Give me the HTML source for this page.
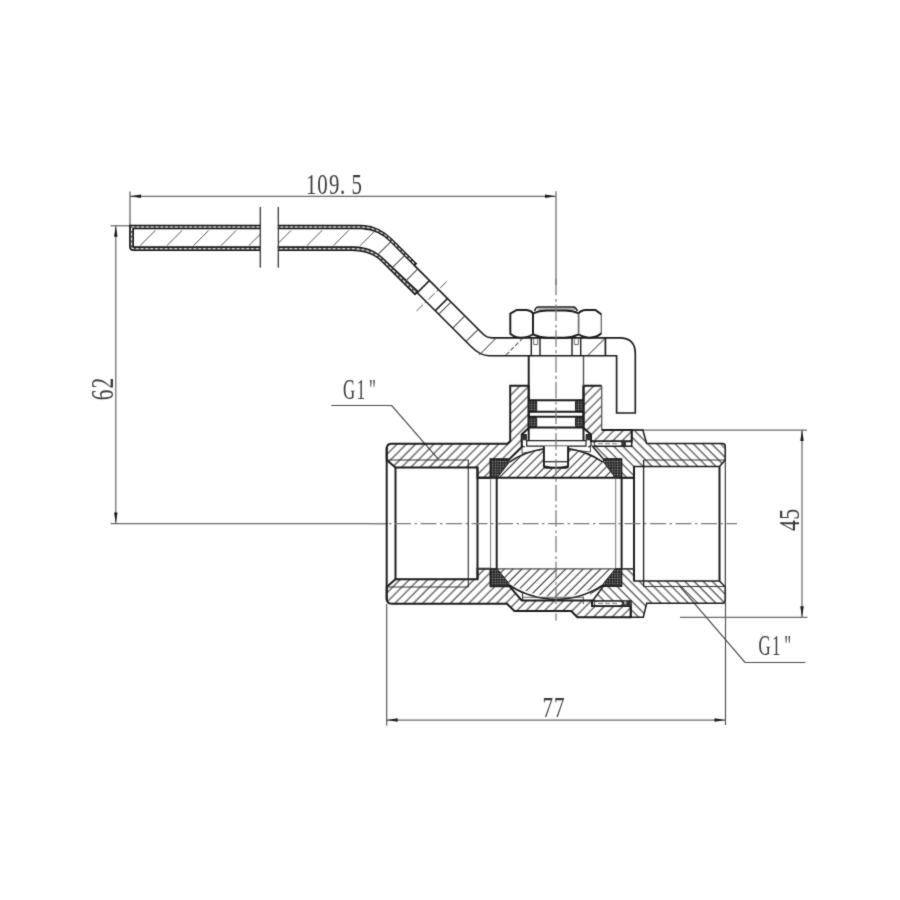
<!DOCTYPE html>
<html lang="en">
<head>
<meta charset="utf-8">
<title>Ball valve G1" - dimensional drawing</title>
<style>
html,body{margin:0;padding:0;background:#fff;}
body{width:900px;height:900px;overflow:hidden;font-family:"Liberation Serif",serif;}
svg{display:block;}
</style>
</head>
<body>
<svg width="900" height="900" viewBox="0 0 900 900">
<rect width="900" height="900" fill="#fff"/>
<g filter="url(#soft)">
<defs>
<filter id="soft" filterUnits="userSpaceOnUse" x="0" y="0" width="900" height="900" color-interpolation-filters="sRGB"><feConvolveMatrix order="3" kernelMatrix="0.02 0.09 0.02 0.09 0.56 0.09 0.02 0.09 0.02" edgeMode="duplicate" preserveAlpha="false"/></filter>
<pattern id="hA" width="6.53" height="6.53" patternUnits="userSpaceOnUse" patternTransform="translate(5.82,0) rotate(45)">
<line x1="3" y1="-1" x2="3" y2="8" stroke="#222" stroke-width="1.0"/></pattern>
<pattern id="hB" width="6.45" height="6.45" patternUnits="userSpaceOnUse" patternTransform="translate(8.1,0) rotate(-45)">
<line x1="3" y1="-1" x2="3" y2="8" stroke="#222" stroke-width="1.0"/></pattern>
<pattern id="hC" width="6.2" height="6.2" patternUnits="userSpaceOnUse" patternTransform="translate(8.13,0) rotate(45)">
<line x1="3" y1="-1" x2="3" y2="8" stroke="#222" stroke-width="1.0"/></pattern>
<pattern id="dots" width="2.6" height="2.6" patternUnits="userSpaceOnUse">
<rect width="2.6" height="2.6" fill="#2b2b2b"/><rect x="0.8" y="0.8" width="1.1" height="1.1" fill="#a8a8a8"/></pattern>
</defs>
<line x1="130" y1="196.3" x2="556" y2="196.3" stroke="#6a6a6a" stroke-width="1.25" />
<line x1="130" y1="191.5" x2="130" y2="225.5" stroke="#4a4a4a" stroke-width="1.1" />
<polygon points="130,196.3 141.00,198.05 141.00,194.55" fill="#1a1a1a"/>
<polygon points="556,196.3 545.00,194.55 545.00,198.05" fill="#1a1a1a"/>
<line x1="115.8" y1="225.8" x2="115.8" y2="523.4" stroke="#6a6a6a" stroke-width="1.25" />
<line x1="110.5" y1="225.8" x2="130" y2="225.8" stroke="#6a6a6a" stroke-width="1.25" />
<line x1="110.5" y1="523.5" x2="388" y2="523.5" stroke="#6a6a6a" stroke-width="1.25" />
<polygon points="115.8,225.8 114.05,236.80 117.55,236.80" fill="#1a1a1a"/>
<polygon points="115.8,523.4 117.55,512.40 114.05,512.40" fill="#1a1a1a"/>
<line x1="386.7" y1="720" x2="725.5" y2="720" stroke="#6a6a6a" stroke-width="1.25" />
<line x1="386.7" y1="604" x2="386.7" y2="725.5" stroke="#4a4a4a" stroke-width="1.1" />
<line x1="725.5" y1="603" x2="725.5" y2="725" stroke="#4a4a4a" stroke-width="1.1" />
<polygon points="386.7,720 397.70,721.75 397.70,718.25" fill="#1a1a1a"/>
<polygon points="725.5,720 714.50,718.25 714.50,721.75" fill="#1a1a1a"/>
<line x1="802" y1="430" x2="802" y2="617.3" stroke="#6a6a6a" stroke-width="1.25" />
<line x1="632" y1="430" x2="807" y2="430" stroke="#6a6a6a" stroke-width="1.25" />
<line x1="680" y1="617.3" x2="807.5" y2="617.3" stroke="#6a6a6a" stroke-width="1.25" />
<polygon points="802,430 800.25,441.00 803.75,441.00" fill="#1a1a1a"/>
<polygon points="802,617.3 803.75,606.30 800.25,606.30" fill="#1a1a1a"/>
<path d="M331.3 405.5 L391.7 405.5 L438.3 459.2" stroke="#4a4a4a" stroke-width="1.2" fill="none" />
<path d="M680 586.7 L745 662.5 L805.3 662.5" stroke="#4a4a4a" stroke-width="1.2" fill="none" />
<line x1="260.3" y1="207" x2="260.3" y2="267.5" stroke="#3a3a3a" stroke-width="1.0" />
<line x1="278.3" y1="207" x2="278.3" y2="267.5" stroke="#3a3a3a" stroke-width="1.0" />
<path d="M386.7 448.7 Q386.7 443.7 391.7 443.7 L507.5 443.7 L510.2 441 L510.2 385.8 L528.7 385.8 L528.7 428 L521.7 434.5 L521.7 447 L509.3 459.3 L490.5 459.3 L490.5 477.7 L477.5 477.7 L477.5 467.5 L395.5 467.5 L386.7 460 Z" stroke="none" stroke-width="0" fill="url(#hA)" />
<path d="M583.5 385.8 L601.7 385.8 L601.7 430 L631.7 430 L631.7 441.3 L591 441.3 L591 434.5 L583.5 428 Z" stroke="none" stroke-width="0" fill="url(#hA)" />
<path d="M386.7 587 L395.5 579.3 L477.5 579.3 L477.5 568.8 L490.5 568.8 L490.5 586.2 L509.4 586.2 L521.7 600.4 L592 600.4 L592 606 L630.6 606 L630.6 617.2 L577.3 617.2 L571.3 611 L514.4 611 L507 603.8 L391.7 603.8 Q386.7 603.8 386.7 598.8 Z" stroke="none" stroke-width="0" fill="url(#hA)" />
<path d="M631.7 430 L642.8 430 L646.7 443.5 L722.5 443.5 Q725.3 443.5 725.3 446.5 L725.3 460 L719.5 466.5 L634 466.5 L634 477.7 L621.5 477.7 L621.5 459 L603.3 459 L592.5 446.3 L631.7 446.3 Z" stroke="none" stroke-width="0" fill="url(#hB)" />
<path d="M621.5 568.8 L634 568.8 L634 581 L719.5 581 L725.3 587 L725.3 600.5 Q725.3 603.3 722.5 603.3 L646.7 603.3 L643.3 617.2 L631 617.2 L631 601 L592.5 601 L603.3 586.2 L621.5 586.2 Z" stroke="none" stroke-width="0" fill="url(#hB)" />
<path d="M496.7 477.7 L496.7 474.7 A80.0 75.7 0 0 1 543.9 448.69 L543.9 467.8 L568.1 467.8 L568.1 448.66 A80.0 75.7 0 0 1 615.7 474.7 L615.7 477.7 Z" stroke="none" stroke-width="0" fill="url(#hC)" />
<path d="M496.7 568.8 L496.7 571.8 A80.0 75.7 0 0 0 615.7 571.8 L615.7 568.8 Z" stroke="none" stroke-width="0" fill="url(#hC)" />
<path d="M386.7 448.7 Q386.7 443.7 391.7 443.7 L507.5 443.7 L510.2 441 L510.2 385.8 L528.7 385.8 L528.7 428 L521.7 434.5 L521.7 447 L509.3 459.3 L490.5 459.3 L490.5 477.7 L477.5 477.7 L477.5 467.5 L395.5 467.5 L386.7 460 Z" stroke="#1b1b1b" stroke-width="1.95" fill="none" />
<path d="M601.7 430 L631.7 430 L631.7 441.3 L591 441.3 L591 434.5 L583.5 428 L583.5 385.8 L601.7 385.8" stroke="#1b1b1b" stroke-width="1.95" fill="none" />
<line x1="601.7" y1="385.8" x2="601.7" y2="430" stroke="#555" stroke-width="1.3" />
<path d="M386.7 587 L395.5 579.3 L477.5 579.3 L477.5 568.8 L490.5 568.8 L490.5 586.2 L509.4 586.2 L521.7 600.4 L592 600.4 L592 606 L630.6 606 L630.6 617.2 L577.3 617.2 L571.3 611 L514.4 611 L507 603.8 L391.7 603.8 Q386.7 603.8 386.7 598.8 Z" stroke="#1b1b1b" stroke-width="1.95" fill="none" />
<path d="M631.7 430 L642.8 430 L646.7 443.5 L722.5 443.5 Q725.3 443.5 725.3 446.5 L725.3 460 L719.5 466.5 L634 466.5 L634 477.7 L621.5 477.7 L621.5 459 L603.3 459 L592.5 446.3 L631.7 446.3 Z" stroke="#1b1b1b" stroke-width="1.5" fill="none" />
<path d="M621.5 568.8 L634 568.8 L634 581 L719.5 581 L725.3 587 L725.3 600.5 Q725.3 603.3 722.5 603.3 L646.7 603.3 L643.3 617.2 L631 617.2 L631 601 L592.5 601 L603.3 586.2 L621.5 586.2 Z" stroke="#1b1b1b" stroke-width="1.5" fill="none" />
<line x1="386.7" y1="447" x2="386.7" y2="600.5" stroke="#1b1b1b" stroke-width="1.95" />
<line x1="395.5" y1="467.5" x2="395.5" y2="579.3" stroke="#1b1b1b" stroke-width="1.95" />
<line x1="468.3" y1="460" x2="468.3" y2="587" stroke="#2a2a2a" stroke-width="1.1" />
<line x1="477.5" y1="467.5" x2="477.5" y2="579.3" stroke="#1b1b1b" stroke-width="1.95" />
<line x1="386.7" y1="460" x2="468.3" y2="460" stroke="#333" stroke-width="1.0" />
<line x1="386.7" y1="587" x2="468.3" y2="587" stroke="#333" stroke-width="1.0" />
<line x1="634" y1="466.5" x2="634" y2="581" stroke="#1b1b1b" stroke-width="1.95" />
<line x1="643.6" y1="460" x2="643.6" y2="586.5" stroke="#1b1b1b" stroke-width="1.3" />
<line x1="719.5" y1="466.5" x2="719.5" y2="581" stroke="#1b1b1b" stroke-width="1.95" />
<line x1="725.3" y1="446.5" x2="725.3" y2="600.5" stroke="#2a2a2a" stroke-width="1.1" />
<line x1="643.6" y1="460" x2="725.3" y2="460" stroke="#333" stroke-width="1.0" />
<line x1="643.6" y1="586.5" x2="725.3" y2="586.5" stroke="#333" stroke-width="1.0" />
<line x1="477.5" y1="477.7" x2="634" y2="477.7" stroke="#1b1b1b" stroke-width="1.95" />
<line x1="477.5" y1="568.8" x2="634" y2="568.8" stroke="#4a4a4a" stroke-width="1.3" />
<line x1="490.6" y1="477.7" x2="490.6" y2="568.8" stroke="#666" stroke-width="0.9" />
<line x1="496.7" y1="477.7" x2="496.7" y2="568.8" stroke="#1b1b1b" stroke-width="1.95" />
<line x1="615.7" y1="477.7" x2="615.7" y2="568.8" stroke="#666" stroke-width="0.9" />
<line x1="621.6" y1="477.7" x2="621.6" y2="568.8" stroke="#1b1b1b" stroke-width="1.95" />
<path d="M594 443.7 Q594 441.5 597 441.5 L620 441.5 Q622.5 441.5 622.5 443.7 Q622.5 446 620 446 L597 446 Q594 446 594 443.7 Z" stroke="#1b1b1b" stroke-width="1.0" fill="#fff" />
<line x1="598" y1="443.7" x2="619" y2="443.7" stroke="#555" stroke-width="0.8" stroke-dasharray="5 2"/>
<rect x="621.5" y="441" width="4.5" height="5.2" fill="#333"/>
<path d="M594 603.4 Q594 601.2 597 601.2 L620 601.2 Q622.5 601.2 622.5 603.4 Q622.5 605.7 620 605.7 L597 605.7 Q594 605.7 594 603.4 Z" stroke="#1b1b1b" stroke-width="1.0" fill="#fff" />
<line x1="598" y1="603.4" x2="619" y2="603.4" stroke="#555" stroke-width="0.8" stroke-dasharray="5 2"/>
<rect x="622" y="600.6" width="8.6" height="5.4" fill="#333"/>
<rect x="624.3" y="601.2" width="2" height="3.2" fill="#bbb"/>
<path d="M509.3 462.10 A80.0 75.7 0 0 1 543.9 448.69" stroke="#1b1b1b" stroke-width="1.6" fill="none" />
<path d="M568.1 448.66 A80.0 75.7 0 0 1 603 462.17" stroke="#1b1b1b" stroke-width="1.6" fill="none" />
<path d="M509.3 584.90 A80.0 75.7 0 0 0 603 584.83" stroke="#1b1b1b" stroke-width="1.6" fill="none" />
<path d="M490.6 459.3 L509.0 459.3 L509.0 462.5 L497.2 477.7 L490.6 477.7 Z" stroke="#1a1a1a" stroke-width="1.0" fill="url(#dots)" />
<path d="M621.6 459.0 L603.5 459.0 L603.5 462.0 L615.3 477.7 L621.6 477.7 Z" stroke="#1a1a1a" stroke-width="1.0" fill="url(#dots)" />
<path d="M490.6 586.2 L509.0 586.2 L509.0 583.5 L497.2 568.8 L490.6 568.8 Z" stroke="#1a1a1a" stroke-width="1.0" fill="url(#dots)" />
<path d="M621.6 586.2 L603.5 586.2 L603.5 583.5 L615.3 568.8 L621.6 568.8 Z" stroke="#1a1a1a" stroke-width="1.0" fill="url(#dots)" />
<path d="M509.4 586.2 L522.6 593 L522.6 600.4" stroke="#1b1b1b" stroke-width="1.0" fill="none" />
<line x1="522.6" y1="597.3" x2="583" y2="597.3" stroke="#444" stroke-width="0.8" />
<line x1="583.3" y1="596.5" x2="583.3" y2="604" stroke="#333" stroke-width="0.9" />
<path d="M603 586.2 L590 594" stroke="#1b1b1b" stroke-width="1.0" fill="none" />
<path d="M522 446.7 L522 453.3 L543.5 449.5" stroke="#333" stroke-width="0.9" fill="none" />
<path d="M590.5 446.7 L590.5 452 L569 449.5" stroke="#333" stroke-width="0.9" fill="none" />
<path d="M528.7 355.6 L528.7 440.6 M583.5 386 L583.5 440.6" stroke="#1b1b1b" stroke-width="1.95" fill="none" />
<line x1="583.5" y1="355.6" x2="583.5" y2="386" stroke="#4a4a4a" stroke-width="1.4" />
<rect x="528.7" y="400.3" width="8" height="11.399999999999977" rx="2" fill="url(#dots)" stroke="#1a1a1a" stroke-width="1"/>
<rect x="575.5" y="400.3" width="8" height="11.399999999999977" rx="2" fill="url(#dots)" stroke="#1a1a1a" stroke-width="1"/>
<line x1="528.7" y1="400.3" x2="583.5" y2="400.3" stroke="#1b1b1b" stroke-width="1.95" />
<line x1="528.7" y1="411.7" x2="583.5" y2="411.7" stroke="#1b1b1b" stroke-width="1.95" />
<rect x="528.7" y="416.7" width="8" height="10.800000000000011" rx="2" fill="url(#dots)" stroke="#1a1a1a" stroke-width="1"/>
<rect x="575.5" y="416.7" width="8" height="10.800000000000011" rx="2" fill="url(#dots)" stroke="#1a1a1a" stroke-width="1"/>
<line x1="528.7" y1="416.7" x2="583.5" y2="416.7" stroke="#1b1b1b" stroke-width="1.95" />
<line x1="528.7" y1="427.5" x2="583.5" y2="427.5" stroke="#1b1b1b" stroke-width="1.95" />
<path d="M529 427.5 L583.3 427.5 M529 440.6 L583.3 440.6" stroke="#1b1b1b" stroke-width="1.2" fill="none" />
<path d="M526.7 440.6 L586 440.6 L586 446.2 L526.7 446.2 Z" stroke="#1b1b1b" stroke-width="1.2" fill="#fff" />
<path d="M526.7 434.5 L521.7 434.5 L521.7 444 Q521.7 447 525 447 M586 434.5 L591 434.5 L591 444 Q591 447 588 447" stroke="#1b1b1b" stroke-width="1.2" fill="none" />
<rect x="522.2" y="434.8" width="4.8" height="5.5" fill="#333"/>
<rect x="585.6" y="434.8" width="4.8" height="5.5" fill="#333"/>
<path d="M543.9 446.2 L543.9 465.5 Q543.9 467.8 546.5 467.8 L565.5 467.8 Q568.1 467.8 568.1 465.5 L568.1 446.2" stroke="#1b1b1b" stroke-width="1.95" fill="#fff" />
<line x1="543.9" y1="461.7" x2="568.1" y2="461.7" stroke="#1b1b1b" stroke-width="1.2" />
<path d="M545 466 Q556 469.5 567 466" stroke="#1b1b1b" stroke-width="1.3" fill="none" />
<path d="M510.3 313.7 L516.7 310 L526.5 310 Q531 310.4 533 313.3 L533 334.3 Q528 337.7 521 337.7 Q514.5 337.4 510.3 333.7 Z" stroke="#1b1b1b" stroke-width="1.95" fill="#fff" />
<path d="M578.7 313.3 Q580.5 310.4 585.5 310 L595.3 310 L601.3 314.3 L601.3 333.3 Q597 337.4 590 337.7 Q583.5 337.6 578.7 334.3 Z" stroke="#666" stroke-width="1.3" fill="#fff" />
<path d="M533 313.3 Q539 310.6 547 310.5 L565 310.5 Q573 310.6 578.7 313.3 L578.7 334.3 Q572 337.6 564 337.7 L548 337.7 Q540 337.6 533 334.3 Z" stroke="#1b1b1b" stroke-width="1.95" fill="#fff" />
<path d="M578.7 313.3 Q580.5 310.4 585.5 310 L595.3 310 L601.3 314.3" stroke="#1b1b1b" stroke-width="1.95" fill="none" />
<path d="M601.3 333.3 Q597 337.4 590 337.7 Q583.5 337.6 578.7 334.3" stroke="#1b1b1b" stroke-width="1.95" fill="none" />
<line x1="578.7" y1="313.8" x2="578.7" y2="334" stroke="#fff" stroke-width="2.2" />
<line x1="578.7" y1="313.3" x2="578.7" y2="334.3" stroke="#555" stroke-width="1.1" />
<path d="M534.7 311 Q535.5 307 538.5 307 L573.3 307 Q576 307.2 577.3 311" stroke="#1b1b1b" stroke-width="1.5" fill="none" />
<line x1="537.5" y1="309" x2="575" y2="309" stroke="#555" stroke-width="0.9" />
<path d="M416.3 263.8 L392 239.5 Q377.8 225.3 360 225.3 L129.8 225.3 L129.8 247 Q129.8 250.3 133.5 250.3 L352 250.3 Q369.8 250.3 381 260.5 L415 294.5 L418 291.5 L383 258.5 Q371.5 247 353 247 L133.3 247 L133.3 228.7 L361 228.7 Q377.7 228.7 390 241 L414.3 265.3 Z" stroke="#111" stroke-width="1.3" fill="#505050" fill-rule="evenodd"/>
<path d="M131.6 227 L360.5 227 Q377.7 227 391 240.3 L415 264.2" stroke="#fff" stroke-width="1.05" fill="none" stroke-dasharray="2.9 1.9"/>
<path d="M131.6 228 L131.6 247.3 Q131.6 248.7 133.5 248.7 L352.5 248.7 Q370.5 248.7 382 259.5 L416 293" stroke="#fff" stroke-width="1.05" fill="none" stroke-dasharray="2.9 1.9"/>
<path d="M414.3 265.3 L483 334 Q486.8 337.8 492 337.8 L619.5 337.8 Q635.3 337.8 635.3 353.5 L635.3 413 L616.6 413 L616.6 355.7 L489 355.7 Q480.3 355.7 471 346.5 L417 292.5" stroke="#1b1b1b" stroke-width="1.65" fill="none" />
<line x1="140.2" y1="245.6" x2="155.3" y2="230.5" stroke="#4a4a4a" stroke-width="0.95" />
<line x1="166.9" y1="245.6" x2="182.0" y2="230.5" stroke="#4a4a4a" stroke-width="0.95" />
<line x1="193.5" y1="245.6" x2="208.6" y2="230.5" stroke="#4a4a4a" stroke-width="0.95" />
<line x1="221.0" y1="245.6" x2="236.1" y2="230.5" stroke="#4a4a4a" stroke-width="0.95" />
<line x1="248.9" y1="245.6" x2="264.0" y2="230.5" stroke="#4a4a4a" stroke-width="0.95" />
<line x1="278.5" y1="243.0" x2="291.0" y2="230.5" stroke="#4a4a4a" stroke-width="0.95" />
<line x1="306.9" y1="245.6" x2="322.0" y2="230.5" stroke="#4a4a4a" stroke-width="0.95" />
<line x1="333.5" y1="245.6" x2="348.6" y2="230.5" stroke="#4a4a4a" stroke-width="0.95" />
<line x1="360.2" y1="245.6" x2="375.3" y2="230.5" stroke="#4a4a4a" stroke-width="0.95" />
<rect x="261" y="222" width="16.6" height="32" fill="#fff"/>
<line x1="260.3" y1="207" x2="260.3" y2="267.5" stroke="#3a3a3a" stroke-width="1.0" />
<line x1="278.3" y1="207" x2="278.3" y2="267.5" stroke="#3a3a3a" stroke-width="1.0" />
<line x1="378.8" y1="253.7" x2="390.45" y2="242.05" stroke="#4a4a4a" stroke-width="1.05" />
<line x1="392.55" y1="267.45" x2="404.2" y2="255.8" stroke="#4a4a4a" stroke-width="1.05" />
<line x1="405.9" y1="280.8" x2="417.55" y2="269.15" stroke="#4a4a4a" stroke-width="1.05" />
<line x1="439.05" y1="313.95" x2="450.7" y2="302.3" stroke="#4a4a4a" stroke-width="1.05" />
<line x1="452.95" y1="327.85" x2="464.6" y2="316.2" stroke="#4a4a4a" stroke-width="1.05" />
<line x1="466.3" y1="341.2" x2="477.95" y2="329.55" stroke="#4a4a4a" stroke-width="1.05" />
<line x1="417.25" y1="292.75" x2="429.5" y2="280.5" stroke="#1b1b1b" stroke-width="1.7" />
<line x1="435.25" y1="310.75" x2="447.5" y2="298.5" stroke="#1b1b1b" stroke-width="1.7" />
<line x1="416.5" y1="311" x2="447.7" y2="280.6" stroke="#444" stroke-width="0.9" stroke-dasharray="9 2.5 2.5 2.5"/>
<line x1="479.2" y1="355" x2="495.7" y2="338.5" stroke="#4a4a4a" stroke-width="1.05" />
<line x1="506" y1="355" x2="522.5" y2="338.5" stroke="#4a4a4a" stroke-width="1.05" stroke-dasharray="4.5 2"/>
<line x1="588.3" y1="355" x2="604.8" y2="338.5" stroke="#4a4a4a" stroke-width="1.05" />
<line x1="605.4" y1="337.8" x2="605.4" y2="355.7" stroke="#1b1b1b" stroke-width="1.7" />
<path d="M531.3 337.8 L531.3 355.7 M540 337.8 L540 355.7" stroke="#1b1b1b" stroke-width="1.4" fill="none" />
<path d="M533.5999999999999 339 L533.5999999999999 344.5 L537.7 344.5 L537.7 339" stroke="#444" stroke-width="0.8" fill="none" />
<path d="M572 337.8 L572 355.7 M580.7 337.8 L580.7 355.7" stroke="#1b1b1b" stroke-width="1.4" fill="none" />
<path d="M574.3 339 L574.3 344.5 L578.4000000000001 344.5 L578.4000000000001 339" stroke="#444" stroke-width="0.8" fill="none" />
<line x1="556.0" y1="191.3" x2="556.0" y2="285" stroke="#6a6a6a" stroke-width="1.25" />
<line x1="556.0" y1="278.8" x2="556.0" y2="620.6" stroke="#7a7a7a" stroke-width="1.25" stroke-dasharray="16.5 3.6 2.8 2.83"/>
<line x1="369.5" y1="523.7" x2="737" y2="523.7" stroke="#7a7a7a" stroke-width="1.25" stroke-dasharray="16 3.5 2.5 3.5"/>
<g>
<text transform="translate(0,194.2) scale(0.7201,1)" x="424.95 440.49 456.73 472.10 488.20" y="0" font-family="'Liberation Serif', serif" font-size="29.0" fill="#3a3a3a">109.5</text>
<text transform="translate(0,716.7) scale(0.7280,1)" x="745.27 761.00" y="0" font-family="'Liberation Serif', serif" font-size="29.0" fill="#3a3a3a">77</text>
<text transform="translate(112.8,399.3) rotate(-90) scale(0.6986,1)" x="-1.41 15.35" y="0" font-family="'Liberation Serif', serif" font-size="30.6" fill="#3a3a3a">62</text>
<text transform="translate(799.0,530.7) rotate(-90) scale(0.7429,1)" x="-0.43 14.83" y="0" font-family="'Liberation Serif', serif" font-size="29.5" fill="#3a3a3a">45</text>
<text transform="translate(0,399.2) scale(0.5700,1)" x="601.66 625.81 647.32" y="0" font-family="'Liberation Serif', serif" font-size="29.5" fill="#3a3a3a">G1&quot;</text>
<text transform="translate(0,655.2) scale(0.5700,1)" x="1330.61 1354.23 1375.82" y="0" font-family="'Liberation Serif', serif" font-size="29.5" fill="#3a3a3a">G1&quot;</text>
</g>
</g>
</svg>
</body>
</html>
